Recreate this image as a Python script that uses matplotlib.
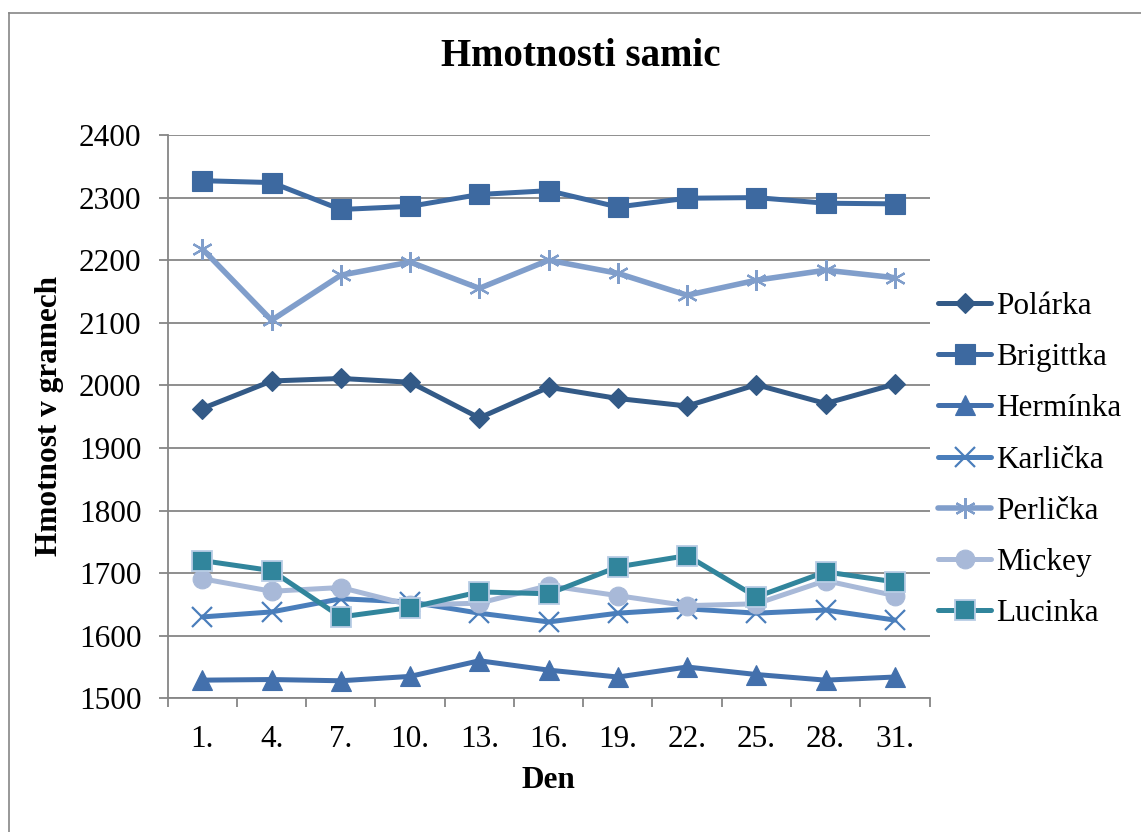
import matplotlib
matplotlib.use("Agg")
import matplotlib.pyplot as plt
from matplotlib.lines import Line2D

plt.rcParams['font.family'] = ['Liberation Serif', 'DejaVu Serif']

days = ["1.", "4.", "7.", "10.", "13.", "16.", "19.", "22.", "25.", "28.", "31."]

polarka   = [1963, 2007, 2011, 2005, 1948, 1997, 1979, 1967, 2001, 1971, 2002]
brigittka = [2327, 2324, 2281, 2286, 2305, 2311, 2285, 2299, 2300, 2291, 2290]
herminka  = [1529, 1530, 1528, 1535, 1560, 1545, 1534, 1550, 1538, 1529, 1534]
karlicka  = [1630, 1638, 1659, 1654, 1636, 1622, 1636, 1643, 1636, 1641, 1625]
perlicka  = [2218, 2104, 2176, 2197, 2155, 2200, 2179, 2144, 2168, 2184, 2172]
mickey    = [1691, 1671, 1677, 1649, 1652, 1680, 1664, 1648, 1651, 1688, 1664]
lucinka   = [1720, 1704, 1630, 1645, 1670, 1667, 1710, 1728, 1662, 1702, 1686]

series = [
    ("Polárka",   polarka,   "#335A87", "D", 10.0, None),
    ("Brigittka", brigittka, "#3D69A0", "s", 14.0, None),
    ("Hermínka",  herminka,  "#4370AC", "^", 14.0, None),
    ("Karlička",  karlicka,  "#4A7EBB", "x", 14.0, None),
    ("Perlička",  perlicka,  "#809ECB", (6, 2, 0), 15.0, None),
    ("Mickey",    mickey,    "#A8B9D8", "o", 13.5, None),
    ("Lucinka",   lucinka,   "#31859C", "s", 14.0, "#B9CDE5"),
]

W, H = 1141, 832
fig = plt.figure(figsize=(W / 100, H / 100), dpi=100)
ax = fig.add_axes([167.7 / W, 1 - 698.3 / H, (929.5 - 167.7) / W, (698.3 - 135) / H])

grid_c = "#868686"
x = list(range(len(days)))
handles = []
for name, vals, col, mk, ms, edge in series:
    lw = 4.0 if name == "Perlička" else 3.6
    if mk in ("x",) or isinstance(mk, tuple):
        mew = 1.6
        mec = col
    else:
        mew = 1.3 if edge else 0.8
        mec = edge if edge else col
    h, = ax.plot(x, vals, color=col, lw=lw, marker=mk, ms=ms,
                 mfc=col, mec=mec, mew=mew, label=name, zorder=3,
                 solid_joinstyle="round", solid_capstyle="round")
    handles.append(h)

ax.set_xlim(-0.5, len(days) - 0.5)
ax.set_ylim(1500, 2400)
ax.set_yticks(range(1500, 2401, 100))
ax.set_xticks(x)
ax.set_xticklabels(days)
ax.set_xticks([i - 0.5 for i in range(len(days) + 1)], minor=True)
ax.tick_params(axis="x", which="major", length=0, pad=19, labelsize=22.5)
ax.tick_params(axis="x", which="minor", length=6.2, width=1.3, color=grid_c, direction="out")
ax.tick_params(axis="y", length=6.8, width=1.3, color=grid_c, pad=12, labelsize=22.5)
ax.yaxis.grid(True, color=grid_c, lw=1.3, zorder=1)
ax.set_axisbelow(True)
for s in ("top", "right"):
    ax.spines[s].set_visible(False)
for s in ("left", "bottom"):
    ax.spines[s].set_color(grid_c)
    ax.spines[s].set_linewidth(1.3)

fig.text(581 / W, 1 - 56 / H, "Hmotnosti samic", ha="center", va="center",
         fontsize=28, fontweight="bold")
fig.text(548 / W, 1 - 780 / H, "Den", ha="center", va="center",
         fontsize=22.5, fontweight="bold")
fig.text(50 / W, 1 - 416 / H, "Hmotnost v gramech", ha="center", va="center",
         rotation=90, fontsize=22.5, fontweight="bold")

fig.legend(handles=handles, loc="center left", bbox_to_anchor=(938 / W, 1 - 460 / H),
           frameon=False, fontsize=22.5, borderpad=0, borderaxespad=0,
           handlelength=1.7, handletextpad=0.15, labelspacing=0.71)

# outer chart border
fig.add_artist(Line2D([8.5 / W, 8.5 / W], [0, 1 - 12.5 / H], transform=fig.transFigure,
                      color=grid_c, lw=1.2))
fig.add_artist(Line2D([8.5 / W, 1], [1 - 12.5 / H, 1 - 12.5 / H], transform=fig.transFigure,
                      color=grid_c, lw=1.2))

fig.savefig("out.png", dpi=100)
